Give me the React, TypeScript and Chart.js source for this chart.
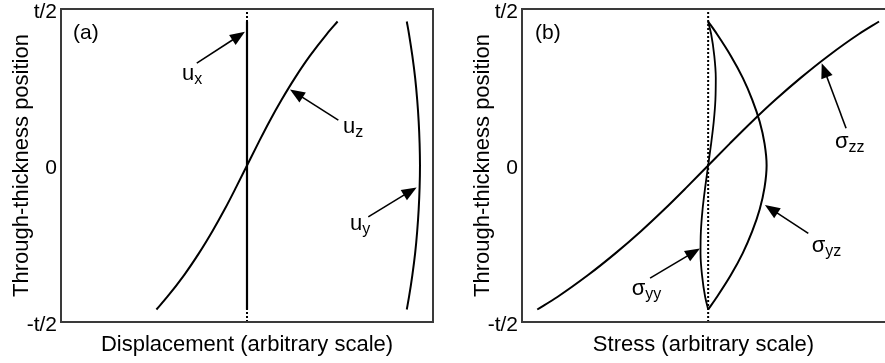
import React, { useEffect, useRef } from 'react';
import { Chart, registerables } from 'chart.js';

Chart.register(...registerables);

// ---------- data ----------
const thicknessY = [-0.46, -0.42, -0.35, -0.28, -0.21, -0.14, -0.07, 0, 0.07, 0.14, 0.21, 0.28, 0.35, 0.42, 0.46];

// panel (a): displacements
const uzX = [-0.487, -0.429, -0.338, -0.258, -0.186, -0.12, -0.059, 0, 0.059, 0.12, 0.186, 0.258, 0.338, 0.429, 0.487];
const uyX = [0.859, 0.871, 0.889, 0.904, 0.915, 0.923, 0.928, 0.93, 0.928, 0.923, 0.915, 0.904, 0.889, 0.871, 0.859];
const uxX = [0, 0];
const uxY = [-0.46, 0.46];

// panel (b): stresses
const szzX = [-0.918, -0.81, -0.645, -0.497, -0.361, -0.235, -0.116, 0, 0.116, 0.235, 0.361, 0.497, 0.645, 0.81, 0.918];
const syzX = [0, 0.047, 0.122, 0.186, 0.237, 0.277, 0.303, 0.314, 0.303, 0.277, 0.237, 0.186, 0.122, 0.047, 0];
const syyX = [0, -0.016, -0.033, -0.041, -0.039, -0.03, -0.016, 0, 0.016, 0.03, 0.039, 0.041, 0.033, 0.016, 0];

// zero reference (dotted)
const zeroX = [0, 0];
const zeroY = [-0.5, 0.5];

const yTickValues = [-0.5, 0, 0.5];
const yTickLabels = ['-t/2', '0', 't/2'];
const yTitle = 'Through-thickness position';
const xTitleA = 'Displacement (arbitrary scale)';
const xTitleB = 'Stress (arbitrary scale)';

// annotations (data coordinates): label anchor, arrow tail, arrow tip
const notesA = [
  { main: 'u', sub: 'x', at: [-0.349, 0.273], tail: [-0.27, 0.327], tip: [-0.011, 0.427] },
  { main: 'u', sub: 'z', at: [0.516, 0.104], tail: [0.491, 0.145], tip: [0.231, 0.243] },
  { main: 'u', sub: 'y', at: [0.554, -0.206], tail: [0.652, -0.164], tip: [0.912, -0.07] },
];
const notesB = [
  { main: 'σ', sub: 'zz', at: [0.681, 0.056], tail: [0.741, 0.119], tip: [0.61, 0.327] },
  { main: 'σ', sub: 'yz', at: [0.556, -0.275], tail: [0.538, -0.217], tip: [0.305, -0.126] },
  { main: 'σ', sub: 'yy', at: [-0.411, -0.414], tail: [-0.312, -0.36], tip: [-0.044, -0.265] },
];

const FONT = '"Liberation Sans", Arial, Helvetica, sans-serif';

const pts = (xs: number[], ys: number[]) => xs.map((x, i) => ({ x, y: ys[i] }));

function drawArrow(ctx: CanvasRenderingContext2D, x1: number, y1: number, x2: number, y2: number) {
  const ang = Math.atan2(y2 - y1, x2 - x1);
  const L = 15;
  const W = 6;
  const bx = x2 - L * Math.cos(ang);
  const by = y2 - L * Math.sin(ang);
  ctx.beginPath();
  ctx.moveTo(x1, y1);
  ctx.lineTo(bx + Math.cos(ang), by + Math.sin(ang));
  ctx.stroke();
  ctx.beginPath();
  ctx.moveTo(x2, y2);
  ctx.lineTo(bx + W * Math.sin(ang), by - W * Math.cos(ang));
  ctx.lineTo(bx - W * Math.sin(ang), by + W * Math.cos(ang));
  ctx.closePath();
  ctx.fill();
}

const decorPlugin = {
  id: 'panelDecor',
  afterDatasetsDraw(chart: any, _args: any, opts: any) {
    const { ctx, chartArea } = chart;
    const xs = chart.scales.x;
    const ys = chart.scales.y;
    const { left, right, top, bottom } = chartArea;
    ctx.save();
    // frame
    ctx.strokeStyle = '#3a3a3a';
    ctx.lineWidth = 2;
    ctx.beginPath();
    if (opts.rightBorder) {
      ctx.moveTo(right, top);
      ctx.lineTo(left, top);
      ctx.lineTo(left, bottom);
      ctx.lineTo(right, bottom);
      ctx.closePath();
    } else {
      ctx.moveTo(right + 2, top);
      ctx.lineTo(left, top);
      ctx.lineTo(left, bottom);
      ctx.lineTo(right + 2, bottom);
    }
    ctx.stroke();

    // panel letter
    ctx.fillStyle = '#000';
    ctx.textBaseline = 'alphabetic';
    ctx.textAlign = 'left';
    ctx.font = `21px ${FONT}`;
    ctx.fillText(opts.panel.text, xs.getPixelForValue(opts.panel.at[0]), ys.getPixelForValue(opts.panel.at[1]));

    // arrows + labels
    ctx.strokeStyle = '#000';
    ctx.lineWidth = 1.6;
    for (const n of opts.notes) {
      drawArrow(
        ctx,
        xs.getPixelForValue(n.tail[0]),
        ys.getPixelForValue(n.tail[1]),
        xs.getPixelForValue(n.tip[0]),
        ys.getPixelForValue(n.tip[1])
      );
      const lx = xs.getPixelForValue(n.at[0]);
      const ly = ys.getPixelForValue(n.at[1]);
      ctx.font = `22px ${FONT}`;
      ctx.fillText(n.main, lx, ly);
      const w = ctx.measureText(n.main).width;
      ctx.font = `16px ${FONT}`;
      ctx.fillText(n.sub, lx + w, ly + 4);
    }
    ctx.restore();
  },
};

function makeConfig(kind: 'a' | 'b'): any {
  const isA = kind === 'a';
  const line = (data: any[], extra: any = {}) => ({
    data,
    showLine: true,
    borderColor: '#000',
    backgroundColor: '#000',
    borderWidth: 2,
    pointRadius: 0,
    pointHoverRadius: 0,
    cubicInterpolationMode: 'monotone',
    fill: false,
    ...extra,
  });
  const straight = { cubicInterpolationMode: 'default', tension: 0 };
  const datasets = isA
    ? [
        line(pts(uxX, uxY), { ...straight, borderWidth: 2.2 }),
        line(pts(uzX, thicknessY)),
        line(pts(uyX, thicknessY)),
        line(pts(zeroX, zeroY), { ...straight, borderDash: [2, 2], borderWidth: 2 }),
      ]
    : [
        line(pts(szzX, thicknessY)),
        line(pts(syzX, thicknessY)),
        line(pts(syyX, thicknessY), { borderWidth: 1.8 }),
        line(pts(zeroX, zeroY), { ...straight, borderDash: [2, 2], borderWidth: 2 }),
      ];
  return {
    type: 'line',
    data: { datasets },
    plugins: [decorPlugin],
    options: {
      indexAxis: 'y',
      animation: false,
      responsive: false,
      events: [],
      layout: { padding: { top: 9, right: isA ? 9 : 0, left: 0, bottom: 0 } },
      plugins: {
        legend: { display: false },
        tooltip: { enabled: false },
        panelDecor: {
          notes: isA ? notesA : notesB,
          panel: { text: isA ? '(a)' : '(b)', at: isA ? [-0.935, 0.405] : [-0.93, 0.405] },
          rightBorder: isA,
        },
      },
      scales: {
        x: {
          type: 'linear',
          min: -1,
          max: isA ? 1 : 0.95,
          grid: { display: false, drawTicks: false },
          border: { display: false },
          ticks: { display: false },
          title: {
            display: true,
            text: isA ? xTitleA : xTitleB,
            color: '#000',
            font: { family: FONT, size: 22 },
            padding: { top: 0, bottom: 5 },
          },
          afterFit(scale: any) {
            scale.height = 41;
            scale.paddingLeft = 0;
            scale.paddingRight = 0;
          },
        },
        y: {
          type: 'linear',
          min: -0.5,
          max: 0.5,
          grid: { display: false, drawTicks: false },
          border: { display: false },
          afterBuildTicks(scale: any) {
            scale.ticks = yTickValues.map((v) => ({ value: v }));
          },
          ticks: {
            color: '#000',
            font: { family: FONT, size: 21 },
            padding: 4,
            labelOffset: 3,
            callback: (v: number) => {
              const i = yTickValues.indexOf(v);
              return i >= 0 ? yTickLabels[i] : '';
            },
          },
          title: {
            display: true,
            text: yTitle,
            color: '#000',
            font: { family: FONT, size: 22 },
            padding: { top: 9, bottom: 0 },
          },
          afterFit(scale: any) {
            scale.width = 61;
            scale.paddingTop = 0;
            scale.paddingBottom = 0;
          },
        },
      },
    },
  };
}

function Panel({ kind, left, width }: { kind: 'a' | 'b'; left: number; width: number }) {
  const ref = useRef<HTMLCanvasElement | null>(null);
  useEffect(() => {
    if (!ref.current) return;
    const chart = new Chart(ref.current, makeConfig(kind));
    return () => chart.destroy();
  }, [kind]);
  return (
    <canvas
      ref={ref}
      width={width}
      height={363}
      style={{ position: 'absolute', left, top: 0, width, height: 363, display: 'block' }}
    />
  );
}

export default function App() {
  return (
    <div style={{ position: 'fixed', left: 0, top: 0, width: 885, height: 363, background: '#fff', overflow: 'hidden' }}>
      <Panel kind="a" left={0} width={442} />
      <Panel kind="b" left={461} width={424} />
    </div>
  );
}
